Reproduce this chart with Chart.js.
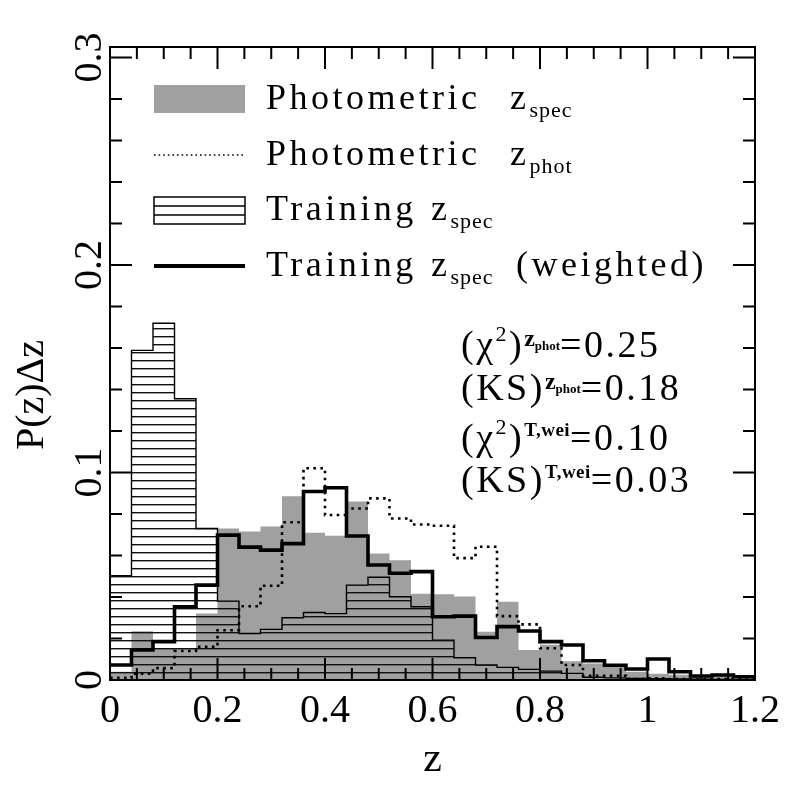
<!DOCTYPE html>
<html>
<head>
<meta charset="utf-8">
<script src="https://cdn.jsdelivr.net/npm/chart.js@4.4.1/dist/chart.umd.min.js"></script>
<style>
  html, body { margin: 0; padding: 0; background: #fff; }
  #wrap { width: 797px; height: 797px; }
</style>
</head>
<body>
<div id="wrap"><canvas id="zChart" width="797" height="797"></canvas></div>
<script>
// bin edges in z (30 bins of 0.04)
const binEdges = [0, 0.04, 0.08, 0.12, 0.16, 0.20, 0.24, 0.28, 0.32, 0.36, 0.40, 0.44, 0.48, 0.52, 0.56,
                  0.60, 0.64, 0.68, 0.72, 0.76, 0.80, 0.84, 0.88, 0.92, 0.96, 1.00, 1.04, 1.08, 1.12, 1.16, 1.20];

// Photometric z_spec (grey filled)
const photSpec = [0.004, 0.0235, 0.015, 0.015, 0.032, 0.073, 0.0715, 0.074, 0.0885, 0.071,
                  0.0695, 0.086, 0.061, 0.0577, 0.0415, 0.0413, 0.0402, 0.0233, 0.0377, 0.0145,
                  0.017, 0.009, 0.008, 0.0065, 0.004, 0.003, 0.0025, 0.002, 0.002, 0.0015];
// Photometric z_phot (dotted)
const photPhot = [0.001, 0.003, 0.0057, 0.014, 0.016, 0.024, 0.0355, 0.0454, 0.076, 0.102,
                  0.0795, 0.0826, 0.0875, 0.0778, 0.0749, 0.0743, 0.0587, 0.0642, 0.0308, 0.0268,
                  0.0153, 0.0072, 0.002, 0.002, 0.0005, 0.0008, 0.0005, 0.0005, 0.0005, 0.0005];
// Training z_spec (hatched)
const trainSpec = [0.0503, 0.1588, 0.1719, 0.1355, 0.073, 0.038, 0.0224, 0.0244, 0.030, 0.0325,
                   0.032, 0.0457, 0.0495, 0.0401, 0.0353, 0.0192, 0.0107, 0.0072, 0.0061, 0.0051,
                   0.0043, 0.0032, 0.0013, 0.001, 0.0008, 0.0006, 0.0005, 0.0004, 0.0003, 0.0002];
// Training z_spec weighted (thick line)
const trainWeighted = [0.0072, 0.0145, 0.0185, 0.0353, 0.0457, 0.0698, 0.064, 0.0626, 0.0657, 0.0908,
                       0.0926, 0.0694, 0.0554, 0.0514, 0.0522, 0.0305, 0.0308, 0.0205, 0.0257, 0.0236,
                       0.0185, 0.0169, 0.0093, 0.0071, 0.0053, 0.0101, 0.004, 0.0019, 0.0024, 0.0016];

const xTickValues = [0, 0.2, 0.4, 0.6, 0.8, 1.0, 1.2];
const xTickLabels = ['0', '0.2', '0.4', '0.6', '0.8', '1', '1.2'];
const yTickValues = [0, 0.1, 0.2, 0.3];
const yTickLabels = ['0', '0.1', '0.2', '0.3'];

const FONT = '"Liberation Serif", "Times New Roman", serif';
const GREY = '#a0a0a0';

// histogram as step points: left edge of each bin, plus closing right edge
function stepPoints(vals) {
    const pts = vals.map((v, i) => ({ x: binEdges[i], y: v }));
    pts.push({ x: binEdges[vals.length], y: vals[vals.length - 1] });
    return pts;
}

function hatchPattern(ctx) {
    const c = document.createElement('canvas');
    c.width = 8;
    c.height = 8;
    const g = c.getContext('2d');
    g.fillStyle = '#111';
    g.fillRect(0, 0, 8, 1.4);
    return ctx.createPattern(c, 'repeat');
}

// draw text made of pieces (sub/superscripts)
function drawRich(ctx, x, y, parts, spacing) {
    let cx = x;
    parts.forEach(p => {
        if (p.x !== undefined) cx = p.x;
        ctx.font = (p.b ? 'bold ' : '') + p.s + 'px ' + FONT;
        ctx.letterSpacing = (p.ls !== undefined ? p.ls : spacing) + 'px';
        ctx.fillText(p.t, cx, y + (p.dy || 0));
        cx += ctx.measureText(p.t).width;
    });
    ctx.letterSpacing = '0px';
}

const framePlugin = {
    id: 'frame',
    afterDraw(chart) {
        const ctx = chart.ctx;
        const { left, right, top, bottom } = chart.chartArea;
        const xs = chart.scales.x, ys = chart.scales.y;
        ctx.save();
        ctx.strokeStyle = '#000';
        ctx.fillStyle = '#000';
        ctx.lineWidth = 2;
        ctx.strokeRect(left, top, right - left, bottom - top);

        // inward ticks on all four sides
        ctx.beginPath();
        for (let i = 0; i <= 24; i++) {
            const px = xs.getPixelForValue(i * 0.05);
            const len = i % 4 === 0 ? 22 : 12;
            ctx.moveTo(px, bottom); ctx.lineTo(px, bottom - len);
            ctx.moveTo(px, top); ctx.lineTo(px, top + len);
        }
        for (let i = 0; i <= 15; i++) {
            const py = ys.getPixelForValue(i * 0.02);
            const len = i % 5 === 0 ? 22 : 12;
            ctx.moveTo(left, py); ctx.lineTo(left + len, py);
            ctx.moveTo(right, py); ctx.lineTo(right - len, py);
        }
        ctx.stroke();

        // rotated y tick labels and y title
        ctx.font = '40px ' + FONT;
        ctx.textAlign = 'center';
        ctx.textBaseline = 'alphabetic';
        yTickValues.forEach((v, i) => {
            ctx.save();
            ctx.translate(101, ys.getPixelForValue(v));
            ctx.rotate(-Math.PI / 2);
            ctx.fillText(yTickLabels[i], 0, 0);
            ctx.restore();
        });
        ctx.save();
        ctx.translate(43, 395);
        ctx.rotate(-Math.PI / 2);
        ctx.fillText('P(z)Δz', 0, 0);
        ctx.restore();

        // legend
        ctx.textAlign = 'left';
        const sx0 = 154, sx1 = 245;
        ctx.fillStyle = GREY;
        ctx.fillRect(sx0, 85, sx1 - sx0, 28);
        ctx.fillStyle = '#000';

        ctx.lineWidth = 1.6;
        ctx.setLineDash([1.6, 3]);
        ctx.beginPath(); ctx.moveTo(sx0, 155); ctx.lineTo(sx1, 155); ctx.stroke();
        ctx.setLineDash([]);

        ctx.lineWidth = 1.5;
        ctx.strokeRect(sx0, 197, sx1 - sx0, 27);
        ctx.beginPath();
        ctx.moveTo(sx0, 206); ctx.lineTo(sx1, 206);
        ctx.moveTo(sx0, 215); ctx.lineTo(sx1, 215);
        ctx.stroke();

        ctx.lineWidth = 4;
        ctx.beginPath(); ctx.moveTo(sx0, 266); ctx.lineTo(sx1, 266); ctx.stroke();

        const sub = (t) => ({ t: t, s: 22, dy: 8, ls: 1 });
        drawRich(ctx, 266, 109, [{ t: 'Photometric', s: 36 }, { t: 'z', s: 36, x: 510 }, sub('spec')], 3.5);
        drawRich(ctx, 266, 165, [{ t: 'Photometric', s: 36 }, { t: 'z', s: 36, x: 510 }, sub('phot')], 3.5);
        drawRich(ctx, 266, 220, [{ t: 'Training', s: 36 }, { t: 'z', s: 36, x: 431 }, sub('spec')], 3.5);
        drawRich(ctx, 266, 276, [{ t: 'Training', s: 36 }, { t: 'z', s: 36, x: 431 }, sub('spec'),
                                 { t: '(weighted)', s: 36, x: 516 }], 3.5);

        // statistics
        const zphot = [{ t: 'z', s: 24, dy: -11, b: 1, ls: 0 }, { t: 'phot', s: 13, dy: -7, b: 1, ls: 0 }];
        const twei = [{ t: 'T,wei', s: 19, dy: -14, b: 1, ls: 0.5 }];
        const chi = [{ t: '(', s: 38 }, { t: 'χ', s: 38 }, { t: '2', s: 22, dy: -16 }, { t: ')', s: 38 }];
        const ks = [{ t: '(KS)', s: 38 }];
        drawRich(ctx, 461, 357, chi.concat(zphot, [{ t: '=0.25', s: 38 }]), 2.5);
        drawRich(ctx, 461, 400, ks.concat(zphot, [{ t: '=0.18', s: 38 }]), 2.5);
        drawRich(ctx, 461, 450, chi.concat(twei, [{ t: '=0.10', s: 38 }]), 2.5);
        drawRich(ctx, 461, 492, ks.concat(twei, [{ t: '=0.03', s: 38 }]), 2.5);
        ctx.restore();
    }
};

const canvas = document.getElementById('zChart');
const ctx = canvas.getContext('2d');

new Chart(ctx, {
    type: 'line',
    data: {
        datasets: [
            {
                label: 'Training z_spec (weighted)',
                data: stepPoints(trainWeighted),
                stepped: true,
                borderColor: '#000',
                borderWidth: 3.6,
                fill: false,
                pointRadius: 0
            },
            {
                label: 'Photometric z_phot',
                data: stepPoints(photPhot),
                stepped: true,
                borderColor: '#000',
                borderWidth: 2.6,
                borderDash: [2.6, 4.4],
                fill: false,
                pointRadius: 0
            },
            {
                label: 'Training z_spec',
                data: stepPoints(trainSpec),
                stepped: true,
                borderColor: '#000',
                borderWidth: 1.4,
                backgroundColor: hatchPattern(ctx),
                fill: 'origin',
                pointRadius: 0
            },
            {
                label: 'Photometric z_spec',
                data: stepPoints(photSpec),
                stepped: true,
                borderWidth: 0,
                borderColor: GREY,
                backgroundColor: GREY,
                fill: 'origin',
                pointRadius: 0
            }
        ]
    },
    options: {
        responsive: false,
        animation: false,
        devicePixelRatio: 1,
        layout: { padding: { top: 47, right: 42, left: 0, bottom: 0 } },
        plugins: {
            legend: { display: false },
            tooltip: { enabled: false }
        },
        scales: {
            x: {
                type: 'linear',
                min: 0,
                max: 1.2,
                afterBuildTicks: s => { s.ticks = xTickValues.map(v => ({ value: v })); },
                afterFit: s => { s.height = 117; },
                ticks: {
                    callback: (v, i) => xTickLabels[i],
                    font: { family: FONT, size: 40 },
                    color: '#000',
                    padding: 7,
                    maxRotation: 0
                },
                grid: { display: false, drawTicks: false },
                border: { display: false },
                title: {
                    display: true,
                    text: 'z',
                    font: { family: FONT, size: 42 },
                    color: '#000',
                    padding: { top: 0, bottom: 12 }
                }
            },
            y: {
                type: 'linear',
                min: 0,
                max: 0.305,
                afterFit: s => { s.width = 110; },
                ticks: { display: false },
                grid: { display: false, drawTicks: false },
                border: { display: false },
                title: { display: false }
            }
        }
    },
    plugins: [framePlugin]
});
</script>
</body>
</html>
